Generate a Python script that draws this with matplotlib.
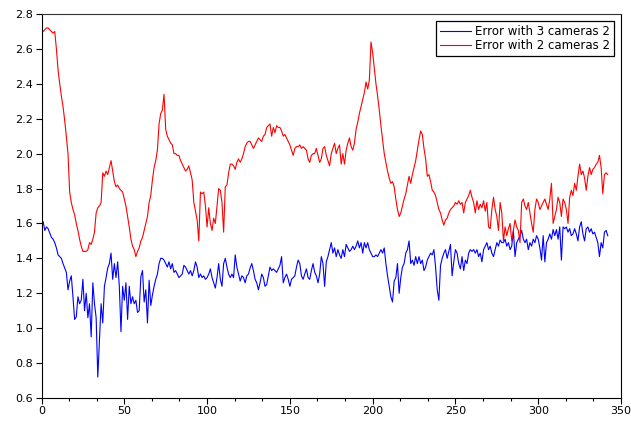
import numpy as np
import matplotlib
matplotlib.use("Agg")
import matplotlib.pyplot as plt
from matplotlib.ticker import MultipleLocator, FormatStrFormatter

# Per-frame reconstruction error, frames 1..342
err_3cams = [
    1.61, 1.56, 1.58, 1.57, 1.545, 1.52, 1.51, 1.49, 1.46, 1.42,
    1.41, 1.40, 1.37, 1.345, 1.32, 1.22, 1.27, 1.30, 1.18, 1.05,
    1.065, 1.18, 1.14, 1.16, 1.28, 1.10, 1.20, 1.06, 1.14, 0.95,
    1.26, 1.14, 1.06, 0.72, 0.93, 1.14, 1.03, 1.24, 1.29, 1.345,
    1.37, 1.43, 1.28, 1.37, 1.29, 1.38, 1.24, 0.98, 1.24, 1.16,
    1.26, 1.05, 1.24, 1.14, 1.18, 1.14, 1.16, 1.09, 1.10, 1.295,
    1.33, 1.15, 1.22, 1.03, 1.275, 1.13, 1.19, 1.24, 1.28, 1.31,
    1.37, 1.40, 1.40, 1.39, 1.37, 1.35, 1.38, 1.34, 1.37, 1.32,
    1.33, 1.31, 1.29, 1.30, 1.31, 1.36, 1.35, 1.33, 1.31, 1.33,
    1.30, 1.33, 1.38, 1.35, 1.29, 1.31, 1.29, 1.30, 1.28, 1.29,
    1.31, 1.34, 1.29, 1.26, 1.23, 1.29, 1.37, 1.28, 1.24, 1.37,
    1.40, 1.35, 1.31, 1.29, 1.31, 1.29, 1.42, 1.35, 1.31, 1.27,
    1.30, 1.29, 1.26, 1.30, 1.31, 1.345, 1.37, 1.33, 1.28, 1.26,
    1.22, 1.26, 1.31, 1.29, 1.24, 1.25, 1.30, 1.35, 1.33, 1.34,
    1.33, 1.32, 1.34, 1.36, 1.41, 1.26, 1.29, 1.31, 1.28, 1.24,
    1.28, 1.29, 1.30, 1.35, 1.39, 1.37, 1.30, 1.28, 1.31, 1.34,
    1.29, 1.28, 1.33, 1.37, 1.32, 1.30, 1.26, 1.31, 1.41, 1.37,
    1.24, 1.38, 1.41, 1.45, 1.49, 1.43, 1.46, 1.41, 1.45, 1.42,
    1.40, 1.45, 1.41, 1.48, 1.46, 1.44, 1.45, 1.47, 1.45, 1.47,
    1.50, 1.46, 1.49, 1.43, 1.49, 1.46, 1.49, 1.45, 1.43, 1.41,
    1.41, 1.42, 1.41, 1.43, 1.45, 1.43, 1.46, 1.37, 1.30, 1.24,
    1.18, 1.15, 1.27, 1.29, 1.37, 1.20, 1.29, 1.35, 1.37, 1.43,
    1.45, 1.50, 1.37, 1.39, 1.36, 1.41, 1.37, 1.41, 1.37, 1.39,
    1.33, 1.35, 1.39, 1.41, 1.43, 1.42, 1.45, 1.35, 1.22, 1.16,
    1.36, 1.40, 1.43, 1.45, 1.40, 1.44, 1.48, 1.30, 1.38, 1.45,
    1.43, 1.37, 1.34, 1.41, 1.33, 1.39, 1.37, 1.43, 1.45, 1.44,
    1.45, 1.43, 1.45, 1.41, 1.43, 1.38, 1.45, 1.47, 1.49, 1.45,
    1.47, 1.43, 1.41, 1.45, 1.49, 1.47, 1.505, 1.49, 1.49, 1.51,
    1.47, 1.49, 1.45, 1.47, 1.56, 1.41, 1.49, 1.51, 1.53, 1.56,
    1.51, 1.49, 1.51, 1.45, 1.49, 1.47, 1.51, 1.49, 1.53, 1.51,
    1.46, 1.39, 1.53, 1.38, 1.49, 1.51, 1.54, 1.51, 1.565, 1.53,
    1.565, 1.51, 1.58, 1.39, 1.58, 1.57, 1.58, 1.55, 1.57, 1.53,
    1.54, 1.57, 1.54, 1.50, 1.58, 1.61, 1.54, 1.50, 1.57, 1.58,
    1.55, 1.57, 1.54, 1.55, 1.52, 1.49, 1.41, 1.49, 1.46, 1.55,
    1.56, 1.53,
]

err_2cams = [
    2.70, 2.71, 2.72, 2.72, 2.71, 2.70, 2.69, 2.70, 2.60, 2.48,
    2.40, 2.33, 2.27, 2.19, 2.10, 2.00, 1.78, 1.72, 1.68, 1.65,
    1.60, 1.56, 1.51, 1.47, 1.44, 1.44, 1.44, 1.45, 1.49, 1.48,
    1.51, 1.55, 1.66, 1.69, 1.70, 1.72, 1.89, 1.87, 1.90, 1.88,
    1.92, 1.96, 1.90, 1.84, 1.81, 1.82, 1.80, 1.79, 1.78, 1.74,
    1.70, 1.64, 1.58, 1.51, 1.47, 1.45, 1.41, 1.44, 1.46, 1.50,
    1.52, 1.56, 1.60, 1.64, 1.72, 1.76, 1.85, 1.92, 1.96, 2.02,
    2.17, 2.23, 2.25, 2.34, 2.14, 2.10, 2.08, 2.06, 2.05, 2.00,
    2.00, 1.99, 1.99, 1.96, 1.94, 1.92, 1.90, 1.91, 1.93, 1.89,
    1.85, 1.72, 1.67, 1.62, 1.50, 1.78, 1.77, 1.78, 1.70, 1.58,
    1.69, 1.60, 1.56, 1.63, 1.60, 1.70, 1.80, 1.79, 1.72, 1.55,
    1.81, 1.82, 1.89, 1.94, 1.94, 1.93, 1.91, 1.95, 1.97, 1.95,
    1.97, 2.00, 2.04, 2.06, 2.07, 2.07, 2.05, 2.03, 2.05, 2.07,
    2.09, 2.08, 2.07, 2.10, 2.11, 2.15, 2.16, 2.17, 2.10, 2.15,
    2.12, 2.16, 2.15, 2.15, 2.13, 2.10, 2.11, 2.09, 2.07, 2.05,
    2.02, 1.99, 2.03, 2.04, 2.04, 2.05, 2.03, 2.04, 2.03, 2.02,
    1.97, 1.95, 1.99, 2.00, 2.00, 2.03, 1.99, 1.95, 1.97, 2.03,
    2.04, 1.99, 1.96, 1.93, 2.00, 2.03, 2.06, 2.00, 2.03, 2.05,
    1.94, 2.00, 1.94, 2.02, 2.06, 2.09, 2.04, 2.02, 2.06, 2.14,
    2.18, 2.23, 2.27, 2.31, 2.35, 2.41, 2.37, 2.42, 2.64, 2.58,
    2.49, 2.40, 2.33, 2.25, 2.16, 2.08, 2.00, 1.95, 1.90, 1.86,
    1.83, 1.84, 1.81, 1.74, 1.68, 1.64, 1.66, 1.70, 1.74, 1.77,
    1.82, 1.87, 1.83, 1.88, 1.92, 1.96, 2.02, 2.08, 2.13, 2.11,
    2.03, 1.97, 1.87, 1.88, 1.84, 1.79, 1.78, 1.76, 1.72, 1.68,
    1.66, 1.62, 1.59, 1.62, 1.63, 1.66, 1.68, 1.69, 1.70, 1.72,
    1.71, 1.73, 1.71, 1.72, 1.66, 1.72, 1.74, 1.76, 1.79, 1.75,
    1.72, 1.66, 1.73, 1.68, 1.71, 1.69, 1.73, 1.67, 1.72, 1.58,
    1.57, 1.68, 1.75, 1.68, 1.64, 1.56, 1.72, 1.66, 1.50, 1.58,
    1.53, 1.57, 1.60, 1.50, 1.56, 1.62, 1.58, 1.56, 1.49, 1.72,
    1.74, 1.70, 1.68, 1.72, 1.66, 1.60, 1.55, 1.68, 1.74, 1.72,
    1.68, 1.70, 1.72, 1.74, 1.71, 1.68, 1.74, 1.83, 1.60, 1.64,
    1.68, 1.75, 1.72, 1.64, 1.74, 1.72, 1.68, 1.60, 1.75, 1.79,
    1.76, 1.83, 1.79, 1.87, 1.94, 1.88, 1.90, 1.86, 1.79, 1.87,
    1.92, 1.88, 1.91, 1.92, 1.94, 1.95, 1.99, 1.92, 1.77, 1.88,
    1.89, 1.88,
]

frames = np.arange(1, len(err_3cams) + 1)
labels = ["Error with 3 cameras 2", "Error with 2 cameras 2"]

plt.rcParams["font.family"] = ["DejaVu Sans"]

fig = plt.figure(figsize=(6.31, 4.23), dpi=100)
ax = fig.add_axes([41.5 / 631, 1 - 398 / 423, (621 - 41.5) / 631, (398 - 14) / 423])

ax.plot(frames, err_3cams, color="#0000ff", lw=0.8, label=labels[0])
ax.plot(frames, err_2cams, color="#ff0000", lw=0.8, label=labels[1])

ax.set_xlim(0, 350)
ax.set_ylim(0.6, 2.8)
ax.xaxis.set_major_locator(MultipleLocator(50))
ax.xaxis.set_minor_locator(MultipleLocator(50 / 3))
ax.yaxis.set_major_locator(MultipleLocator(0.2))
ax.yaxis.set_major_formatter(FormatStrFormatter("%.1f"))

ax.tick_params(axis="both", which="major", direction="out", length=4, width=0.8,
               labelsize=8, pad=2, colors="black")
ax.tick_params(axis="x", which="minor", direction="out", length=2.5, width=0.8)
for side in ["left", "bottom", "right", "top"]:
    ax.spines[side].set_linewidth(0.8)
    ax.spines[side].set_color("black")
ax.spines["top"].set_color("#333333")

leg = ax.legend(loc="upper right", bbox_to_anchor=(614 / 631, 1 - 21 / 423),
                bbox_transform=fig.transFigure, fontsize=8.5, fancybox=False,
                framealpha=1, edgecolor="black", handlelength=2.6,
                handletextpad=0.35, borderpad=0.35, labelspacing=0.1,
                borderaxespad=0)
leg.get_frame().set_linewidth(0.9)

fig.savefig("out.png", dpi=100)
